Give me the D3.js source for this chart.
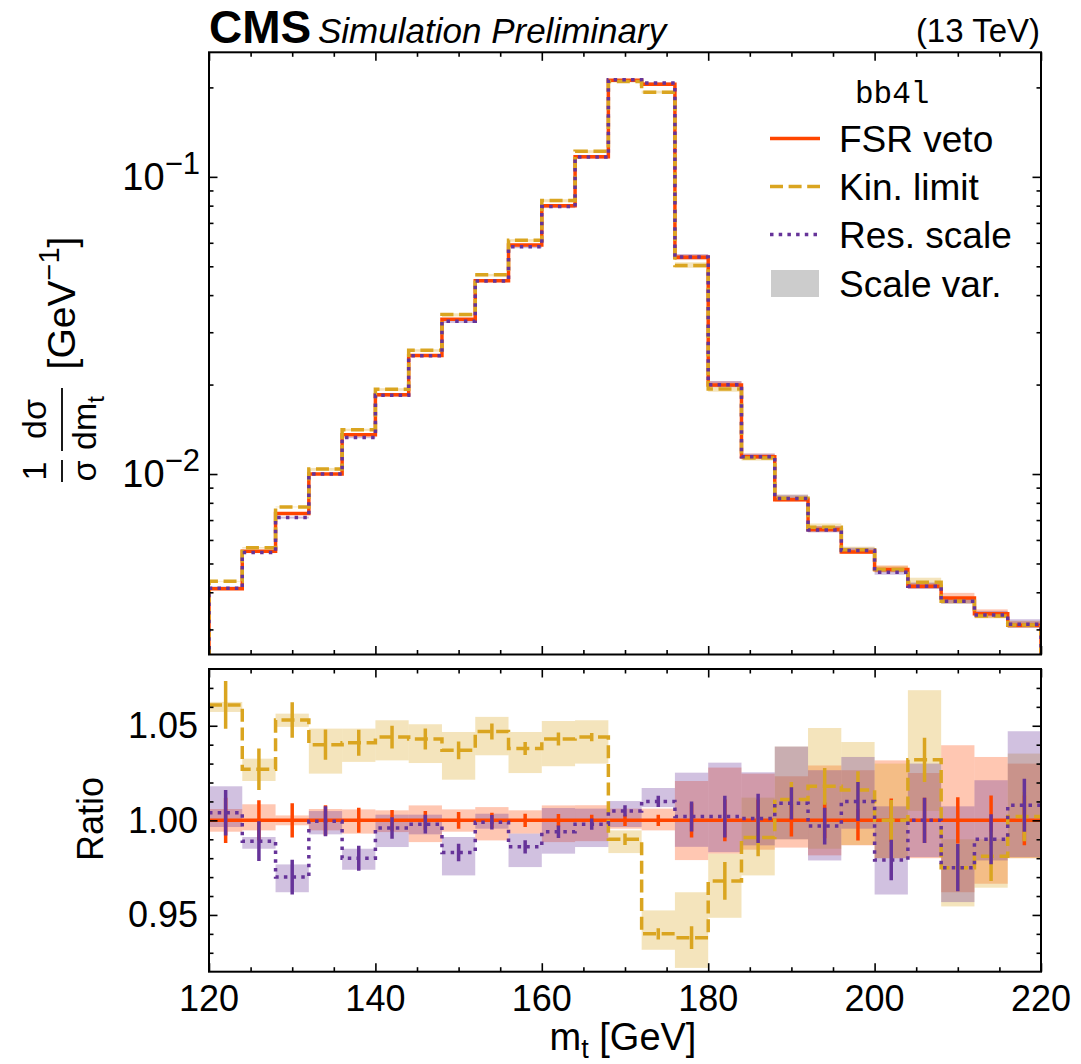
<!DOCTYPE html>
<html>
<head>
<meta charset="utf-8">
<script src="https://cdn.jsdelivr.net/npm/d3@7"></script>
<style>
  body { margin: 0; background: #fff; }
  svg text { font-family: "Liberation Sans", Arial, Helvetica, sans-serif; fill: #000; }
</style>
</head>
<body>
<svg id="chart" width="1081" height="1064"></svg>
<script>
// bin edges of the m_t histogram [GeV]
const edges = [120, 124, 128, 132, 136, 140, 144, 148, 152, 156, 160, 164, 168,
               172, 176, 180, 184, 188, 192, 196, 200, 204, 208, 212, 216, 220];

// normalised distribution, FSR veto (reference)
const fsrVals = [0.00411, 0.00550, 0.00736, 0.0100, 0.01355, 0.01847, 0.02503, 0.0332,
                 0.0447, 0.0590, 0.0799, 0.1168, 0.2113, 0.2048, 0.0536, 0.01995,
                 0.01143, 0.0082, 0.0065, 0.00547, 0.00477, 0.00419, 0.00383, 0.00339, 0.0031];

// ratios to FSR veto
const kinRatio = [1.061, 1.027, 1.053, 1.040, 1.041, 1.044, 1.043, 1.037, 1.047, 1.038,
                  1.043, 1.044, 0.990, 0.940, 0.938, 0.968, 0.991, 1.011, 1.018, 1.016,
                  1.000, 1.032, 0.975, 0.981, 1.002];
const resRatio = [1.004, 0.989, 0.970, 0.9995, 0.980, 0.996, 0.998, 0.983, 0.999, 0.986,
                  0.994, 0.998, 1.005, 1.010, 1.002, 1.002, 1.001, 1.009, 0.997, 1.010,
                  0.979, 1.000, 0.975, 0.990, 1.008];

// statistical errors on the ratios
const fsrErr = [0.012, 0.0106, 0.009, 0.008, 0.0066, 0.0055, 0.005, 0.0044, 0.004, 0.0035,
                0.0033, 0.003, 0.003, 0.003, 0.009, 0.011, 0.011, 0.0085, 0.0095, 0.0106,
                0.0115, 0.012, 0.0122, 0.0132, 0.0132];
const kinErr = [0.0126, 0.011, 0.0094, 0.008, 0.0069, 0.006, 0.0055, 0.0047, 0.0042, 0.0034,
                0.0035, 0.0022, 0.003, 0.003, 0.006, 0.010, 0.010, 0.0093, 0.0097, 0.010,
                0.0107, 0.0117, 0.012, 0.013, 0.013];
const resErr = [0.012, 0.0105, 0.0092, 0.0079, 0.0066, 0.0057, 0.005, 0.0046, 0.0038, 0.0035,
                0.0033, 0.003, 0.003, 0.003, 0.0079, 0.011, 0.013, 0.0085, 0.0097, 0.0103,
                0.0107, 0.012, 0.0125, 0.0132, 0.014];

// scale variation envelopes (ratio to FSR veto)
const fsrBandLo = [0.994, 0.9947, 0.9974, 0.9947, 0.993, 0.9938, 0.9885, 0.994, 0.9894, 0.993,
                   0.9885, 0.989, 0.9956, 0.9947, 0.979, 0.9824, 0.9845, 0.9856, 0.9815, 0.9868,
                   0.980, 0.980, 0.962, 0.9665, 0.980];
const fsrBandHi = [1.006, 1.0085, 1.0026, 1.006, 1.0058, 1.0053, 1.0079, 1.0058, 1.007, 1.0053,
                   1.0079, 1.008, 1.0062, 1.0062, 1.0208, 1.0279, 1.0247, 1.0233, 1.029, 1.0265,
                   1.0317, 1.025, 1.0397, 1.0335, 1.030];
const kinBandLo = [1.0573, 1.0208, 1.0494, 1.0247, 1.0309, 1.0317, 1.0303, 1.0215, 1.0344, 1.025,
                   1.0286, 1.030, 0.9827, 0.9316, 0.922, 0.9485, 0.9709, 0.990, 0.985, 0.987,
                   0.980, 1.005, 0.9545, 0.9644, 0.980];
const kinBandHi = [1.0626, 1.0326, 1.0564, 1.0485, 1.0485, 1.0529, 1.0508, 1.0467, 1.0547, 1.0467,
                   1.0525, 1.0529, 0.9947, 0.9524, 0.962, 0.9824, 1.012, 1.039, 1.0488, 1.0414,
                   1.030, 1.0688, 0.990, 0.990, 1.0353];
const resBandLo = [0.9965, 0.985, 0.962, 0.9926, 0.9739, 0.9859, 0.9926, 0.9709, 0.9956, 0.9753,
                   0.9824, 0.9859, 0.9965, 1.007, 0.986, 0.9832, 0.9868, 0.990, 0.9788, 0.9956,
                   0.9608, 0.9806, 0.9568, 0.9788, 0.9806];
const resBandHi = [1.018, 0.9912, 0.9767, 1.0049, 0.985, 1.003, 1.003, 0.9912, 1.0035, 0.993,
                   1.0065, 1.0062, 1.0102, 1.0171, 1.0252, 1.0305, 1.0254, 1.039, 1.0265, 1.0335,
                   1.0074, 1.030, 1.0074, 1.0212, 1.0471];

const xMajor = [120, 140, 160, 180, 200, 220];
const xMinor = [125, 130, 135, 145, 150, 155, 165, 170, 175, 185, 190, 195, 205, 210, 215];
const yLogMajor = [0.01, 0.1];
const yLogMinor = [0.003, 0.004, 0.005, 0.006, 0.007, 0.008, 0.009,
                   0.02, 0.03, 0.04, 0.05, 0.06, 0.07, 0.08, 0.09, 0.2];
const yRatMajor = [0.95, 1.00, 1.05];
const yRatMinor = [0.93, 0.94, 0.96, 0.97, 0.98, 0.99, 1.01, 1.02, 1.03, 1.04, 1.06, 1.07];

const series = [
  { name: "FSR veto",   color: "#ff4500", ratio: edges.slice(1).map(() => 1), err: fsrErr,
    lo: fsrBandLo, hi: fsrBandHi, dash: null },
  { name: "Kin. limit", color: "#daa520", ratio: kinRatio, err: kinErr,
    lo: kinBandLo, hi: kinBandHi, dash: "13,5.6" },
  { name: "Res. scale", color: "#663399", ratio: resRatio, err: resErr,
    lo: resBandLo, hi: resBandHi, dash: "3.5,5.2" }
];

/* ---------- layout ---------- */
const L = 209, R = 1041;
const T1 = 52.3, B1 = 654.5;   // upper panel
const T2 = 669, B2 = 971.7;    // ratio panel
const LW = 3.5;

const svg = d3.select("#chart");

const x = d3.scaleLinear().domain([120, 220]).range([L, R]);
const yTop = d3.scaleLog().domain([0.00247, 0.2625]).range([B1, T1]);
const yRat = d3.scaleLinear().domain([0.92, 1.08]).range([B2, T2]);

const defs = svg.append("defs");
defs.append("clipPath").attr("id", "clipTop")
  .append("rect").attr("x", L).attr("y", T1).attr("width", R - L).attr("height", B1 - T1);
defs.append("clipPath").attr("id", "clipBot")
  .append("rect").attr("x", L).attr("y", T2).attr("width", R - L).attr("height", B2 - T2);

const gTop = svg.append("g").attr("clip-path", "url(#clipTop)");
const gBot = svg.append("g").attr("clip-path", "url(#clipBot)");

const bins = fsrVals.map((v, i) => ({ x0: edges[i], x1: edges[i + 1], i }));

/* ---------- upper panel ---------- */
series.forEach(s => {
  gTop.append("g").selectAll("rect")
    .data(bins)
    .enter().append("rect")
    .attr("x", d => x(d.x0))
    .attr("width", d => x(d.x1) - x(d.x0))
    .attr("y", d => yTop(fsrVals[d.i] * s.hi[d.i]))
    .attr("height", d => yTop(fsrVals[d.i] * s.lo[d.i]) - yTop(fsrVals[d.i] * s.hi[d.i]))
    .attr("fill", s.color)
    .attr("fill-opacity", 0.3);
});

const stepTop = d3.line()
  .x(d => x(d[0]))
  .y(d => yTop(d[1]))
  .curve(d3.curveStepAfter);

series.forEach(s => {
  const vals = fsrVals.map((v, i) => v * s.ratio[i]);
  const pts = [[120, 0.001]]
    .concat(vals.map((v, i) => [edges[i], v]))
    .concat([[220, vals[vals.length - 1]], [220, 0.001]]);
  gTop.append("path")
    .attr("d", stepTop(pts))
    .attr("fill", "none")
    .attr("stroke", s.color)
    .attr("stroke-width", LW)
    .attr("stroke-dasharray", s.dash);
});

/* ---------- ratio panel ---------- */
series.forEach(s => {
  gBot.append("g").selectAll("rect")
    .data(bins)
    .enter().append("rect")
    .attr("x", d => x(d.x0))
    .attr("width", d => x(d.x1) - x(d.x0))
    .attr("y", d => yRat(s.hi[d.i]))
    .attr("height", d => yRat(s.lo[d.i]) - yRat(s.hi[d.i]))
    .attr("fill", s.color)
    .attr("fill-opacity", 0.3);
});

const stepBot = d3.line()
  .x(d => x(d[0]))
  .y(d => yRat(d[1]))
  .curve(d3.curveStepAfter);

series.forEach(s => {
  const pts = s.ratio.map((r, i) => [edges[i], r])
    .concat([[220, s.ratio[s.ratio.length - 1]]]);
  gBot.append("path")
    .attr("d", stepBot(pts))
    .attr("fill", "none")
    .attr("stroke", s.color)
    .attr("stroke-width", LW)
    .attr("stroke-dasharray", s.dash);

  gBot.append("g").selectAll("line")
    .data(bins)
    .enter().append("line")
    .attr("x1", d => x((d.x0 + d.x1) / 2))
    .attr("x2", d => x((d.x0 + d.x1) / 2))
    .attr("y1", d => yRat(s.ratio[d.i] - s.err[d.i]))
    .attr("y2", d => yRat(s.ratio[d.i] + s.err[d.i]))
    .attr("stroke", s.color)
    .attr("stroke-width", LW);
});

/* ---------- frames and ticks ---------- */
function tickAxis(axisFn, scale, vals, len, tx, ty) {
  const g = svg.append("g")
    .attr("transform", `translate(${tx},${ty})`)
    .call(axisFn(scale).tickValues(vals).tickSize(-len).tickFormat(""));
  g.select(".domain").remove();
  g.selectAll("line").attr("stroke", "#000").attr("stroke-width", 1.6);
}

[[T1, B1, yTop, yLogMajor, yLogMinor], [T2, B2, yRat, yRatMajor, yRatMinor]].forEach(([t, b, ys, maj, min]) => {
  tickAxis(d3.axisBottom, x, xMajor, 8.5, 0, b);
  tickAxis(d3.axisBottom, x, xMinor, 4.5, 0, b);
  tickAxis(d3.axisTop, x, xMajor, 8.5, 0, t);
  tickAxis(d3.axisTop, x, xMinor, 4.5, 0, t);
  tickAxis(d3.axisLeft, ys, maj, 8.5, L, 0);
  tickAxis(d3.axisLeft, ys, min, 4.5, L, 0);
  tickAxis(d3.axisRight, ys, maj, 8.5, R, 0);
  tickAxis(d3.axisRight, ys, min, 4.5, R, 0);
  svg.append("rect")
    .attr("x", L).attr("y", t)
    .attr("width", R - L).attr("height", b - t)
    .attr("fill", "none").attr("stroke", "#000").attr("stroke-width", 2);
});

/* ---------- tick labels ---------- */
svg.append("g").selectAll("text")
  .data(xMajor)
  .enter().append("text")
  .attr("x", d => x(d))
  .attr("y", 1011)
  .attr("text-anchor", "middle")
  .attr("font-size", 36)
  .text(d => d);

svg.append("g").selectAll("text")
  .data(yRatMajor)
  .enter().append("text")
  .attr("x", 198)
  .attr("y", d => yRat(d) + 12.5)
  .attr("text-anchor", "end")
  .attr("font-size", 36)
  .text(d3.format(".2f"));

const logLab = svg.append("g").selectAll("text")
  .data(yLogMajor)
  .enter().append("text")
  .attr("x", 200)
  .attr("y", d => yTop(d) + 13)
  .attr("text-anchor", "end")
  .attr("font-size", 38);
logLab.append("tspan").text("10");
logLab.append("tspan")
  .attr("dy", -16)
  .attr("font-size", 31)
  .text(d => "\u2212" + Math.round(-Math.log10(d)));

/* ---------- axis titles ---------- */
svg.append("text")
  .attr("x", 623).attr("y", 1050)
  .attr("text-anchor", "middle")
  .attr("font-size", 38)
  .call(t => {
    t.append("tspan").text("m");
    t.append("tspan").attr("font-size", 27).attr("dy", 8).text("t");
    t.append("tspan").attr("dy", -8).text(" [GeV]");
  });

svg.append("text")
  .attr("transform", "translate(103,819) rotate(-90)")
  .attr("text-anchor", "middle")
  .attr("font-size", 36)
  .text("Ratio");

// 1/sigma dsigma/dm_t [GeV^-1], rotated
const yl = svg.append("g").attr("font-size", 34);
function rot(text, bx, cy) {
  return yl.append("text")
    .attr("transform", `translate(${bx},${cy}) rotate(-90)`)
    .attr("text-anchor", "middle")
    .text(text);
}
rot("1", 46, 471);
rot("\u03c3", 96, 471);
rot("d\u03c3", 46, 419);
rot("dm", 96, 423).append("tspan").attr("font-size", 24).attr("dy", 8).text("t");
yl.append("line").attr("x1", 62).attr("x2", 62).attr("y1", 460).attr("y2", 482)
  .attr("stroke", "#000").attr("stroke-width", 1.8);
yl.append("line").attr("x1", 62).attr("x2", 62).attr("y1", 388).attr("y2", 451)
  .attr("stroke", "#000").attr("stroke-width", 1.8);
const gev = rot("[GeV", 75, 303).attr("font-size", 39);
gev.append("tspan").attr("font-size", 29).attr("dy", -16).text("\u22121");
gev.append("tspan").attr("dy", 16).text("]");

/* ---------- header ---------- */
svg.append("text").attr("x", 209).attr("y", 43)
  .attr("font-size", 46).attr("font-weight", "bold").text("CMS");
svg.append("text").attr("x", 318).attr("y", 43)
  .attr("font-size", 35).attr("font-style", "italic").text("Simulation Preliminary");
svg.append("text").attr("x", 1040).attr("y", 42)
  .attr("text-anchor", "end").attr("font-size", 33).text("(13 TeV)");

/* ---------- legend ---------- */
svg.append("text").attr("x", 855).attr("y", 103)
  .attr("font-size", 31)
  .style("font-family", "'Liberation Mono', 'Courier New', monospace")
  .text("bb4l");

const legY = [138.5, 186.5, 234.5];
series.forEach((s, i) => {
  svg.append("line")
    .attr("x1", 770).attr("x2", 820)
    .attr("y1", legY[i]).attr("y2", legY[i])
    .attr("stroke", s.color).attr("stroke-width", LW)
    .attr("stroke-dasharray", s.dash);
  svg.append("text")
    .attr("x", 839).attr("y", legY[i] + 13)
    .attr("font-size", 37)
    .text(s.name);
});
svg.append("rect").attr("x", 771).attr("y", 270).attr("width", 48).attr("height", 27)
  .attr("fill", "#cccccc");
svg.append("text").attr("x", 839).attr("y", 296.5).attr("font-size", 37).text("Scale var.");
</script>
</body>
</html>
